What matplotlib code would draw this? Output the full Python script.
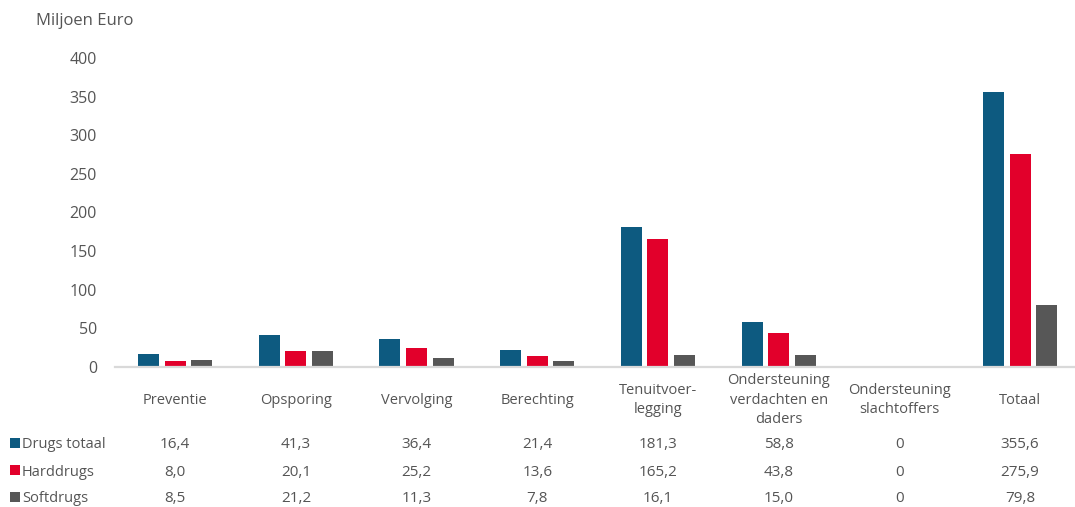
import matplotlib
matplotlib.use("Agg")
import matplotlib.pyplot as plt
from matplotlib.patches import Rectangle
from matplotlib.transforms import blended_transform_factory

categories = ["Preventie", "Opsporing", "Vervolging", "Berechting",
              "Tenuitvoer-\nlegging", "Ondersteuning\nverdachten en\ndaders",
              "Ondersteuning\nslachtoffers", "Totaal"]
series_names = ["Drugs totaal", "Harddrugs", "Softdrugs"]
drugs_totaal = [16.4, 41.3, 36.4, 21.4, 181.3, 58.8, 0, 355.6]
harddrugs = [8.0, 20.1, 25.2, 13.6, 165.2, 43.8, 0, 275.9]
softdrugs = [8.5, 21.2, 11.3, 7.8, 16.1, 15.0, 0, 79.8]
yticks = [0, 50, 100, 150, 200, 250, 300, 350, 400]
colors = ["#0d5a80", "#e2002b", "#575757"]
text_color = "#555555"

plt.rcParams['font.family'] = ['Open Sans', 'DejaVu Sans']

W, H = 1075, 507
fig = plt.figure(figsize=(W / 100, H / 100), dpi=100)
ax = fig.add_axes([115 / W, (H - 367) / H, (W - 115) / W, (367 - 58) / H])

series = [drugs_totaal, harddrugs, softdrugs]
x = list(range(len(categories)))
bw = 0.174
step = 0.221
for k, (vals, c) in enumerate(zip(series, colors)):
    ax.bar([xi + (k - 1) * step for xi in x], vals, width=bw, color=c, zorder=2)

ax.set_xlim(-0.4988, 7.455)
ax.set_ylim(0, 400)
ax.set_yticks(yticks)
ax.set_yticklabels([str(v) for v in yticks], color=text_color, fontsize=11.5)
ax.tick_params(axis='y', length=0, pad=13)
ax.set_xticks([])
for s in ["top", "right", "left"]:
    ax.spines[s].set_visible(False)
ax.spines["bottom"].set_color("#d9d9d9")
ax.spines["bottom"].set_linewidth(1.6)

fig.text(36 / W, 1 - 21 / H, "Miljoen Euro", color=text_color, fontsize=12,
         ha='left', va='center')

trans = blended_transform_factory(ax.transData, fig.transFigure)
for xi, cat in zip(x, categories):
    ax.text(xi, 1 - 400 / H, cat, transform=trans, ha='center', va='center',
            color=text_color, fontsize=10.5, linespacing=1.38)


def fmt(v):
    if v == 0:
        return "0"
    return f"{v:.1f}".replace(".", ",")


row_y = [443, 470, 497]
for name, vals, c, ry in zip(series_names, series, colors, row_y):
    yy = 1 - (ry + 2) / H
    fig.add_artist(Rectangle((10 / W, (H - ry - 5) / H), 10 / W, 10 / H,
                             transform=fig.transFigure, color=c, lw=0))
    fig.text(22 / W, yy, name, color=text_color, fontsize=10.5, ha='left', va='center')
    for xi, v in zip(x, vals):
        ax.text(xi, yy, fmt(v), transform=trans, ha='center', va='center',
                color=text_color, fontsize=11)

fig.savefig("out.png", dpi=100)
